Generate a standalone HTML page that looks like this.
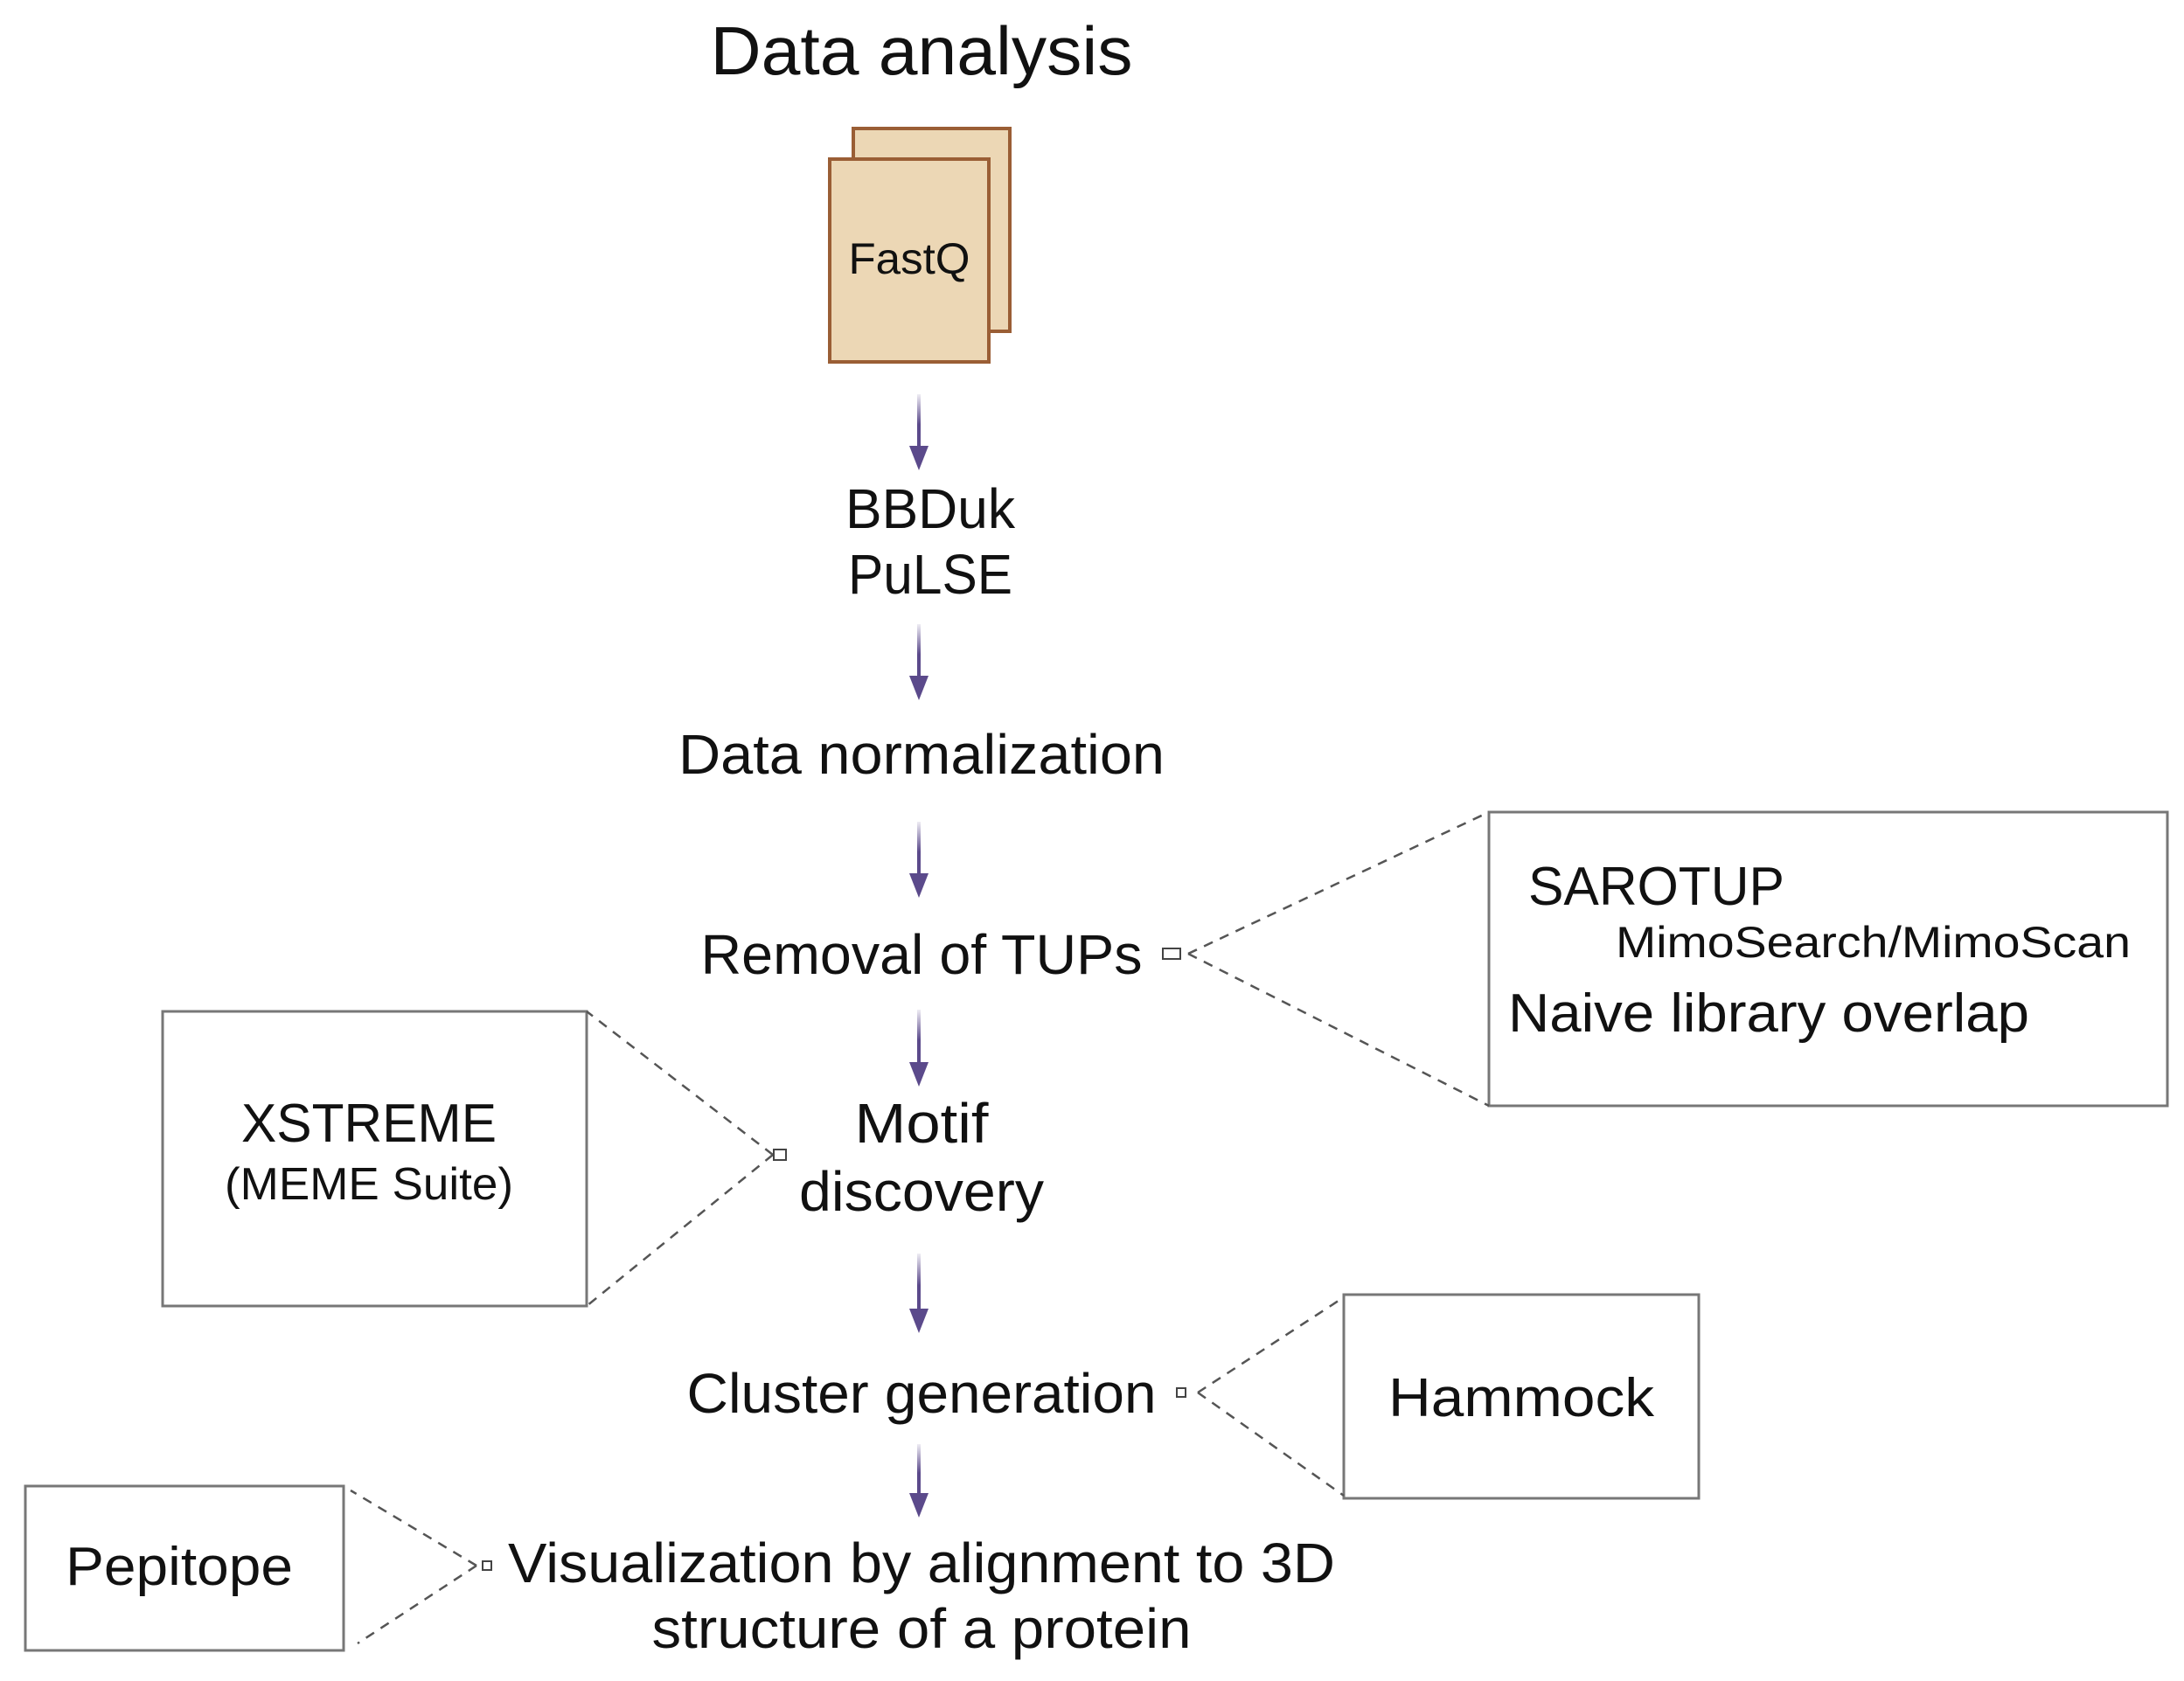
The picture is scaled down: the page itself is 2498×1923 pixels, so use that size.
<!DOCTYPE html>
<html><head><meta charset="utf-8"><style>html,body{margin:0;padding:0;background:#fff}svg{display:block}</style></head><body>
<svg width="2498" height="1923" viewBox="0 0 2498 1923" xmlns="http://www.w3.org/2000/svg" font-family="Liberation Sans, sans-serif" fill="#111">
<defs>
<linearGradient id="g" x1="0" y1="0" x2="0" y2="1"><stop offset="0" stop-color="#5b4a8b" stop-opacity="0.1"/><stop offset="0.5" stop-color="#5b4a8b"/></linearGradient>
</defs>
<text x="1054" y="85" font-size="78" text-anchor="middle" textLength="483" lengthAdjust="spacingAndGlyphs">Data analysis</text>
<rect x="976" y="147" width="179" height="232" fill="#ecd7b5" stroke="#9a5e35" stroke-width="4"/>
<rect x="949" y="182" width="182" height="232" fill="#ecd7b5" stroke="#9a5e35" stroke-width="4"/>
<text x="1040" y="313" font-size="50" text-anchor="middle" textLength="139" lengthAdjust="spacingAndGlyphs">FastQ</text>
<g fill="url(#g)">
<rect x="1049" y="451" width="4" height="69"/><rect x="1049" y="714" width="4" height="69"/><rect x="1049" y="940" width="4" height="69"/><rect x="1049" y="1155" width="4" height="70"/><rect x="1049" y="1434" width="4" height="73"/><rect x="1049" y="1652" width="4" height="66"/>
</g>
<g fill="#5b4a8b">
<polygon points="1040,510 1062,510 1051,538"/><polygon points="1040,773 1062,773 1051,801"/><polygon points="1040,999 1062,999 1051,1027"/><polygon points="1040,1215 1062,1215 1051,1243"/><polygon points="1040,1497 1062,1497 1051,1525"/><polygon points="1040,1708 1062,1708 1051,1736"/>
</g>
<g font-size="64" text-anchor="middle">
<text x="1064" y="604" textLength="194" lengthAdjust="spacingAndGlyphs">BBDuk</text>
<text x="1064" y="679" textLength="188" lengthAdjust="spacingAndGlyphs">PuLSE</text>
<text x="1054" y="885" textLength="556" lengthAdjust="spacingAndGlyphs">Data normalization</text>
<text x="1054" y="1114" textLength="505" lengthAdjust="spacingAndGlyphs">Removal of TUPs</text>
<text x="1054" y="1307" textLength="153" lengthAdjust="spacingAndGlyphs">Motif</text>
<text x="1054" y="1385" textLength="280" lengthAdjust="spacingAndGlyphs">discovery</text>
<text x="1054" y="1616" textLength="537" lengthAdjust="spacingAndGlyphs">Cluster generation</text>
<text x="1054" y="1810" textLength="946" lengthAdjust="spacingAndGlyphs">Visualization by alignment to 3D</text>
<text x="1054" y="1885" textLength="617" lengthAdjust="spacingAndGlyphs">structure of a protein</text>
</g>
<g fill="none" stroke="#777" stroke-width="3">
<rect x="1703" y="929" width="776" height="336"/>
<rect x="186" y="1157" width="485" height="337"/>
<rect x="1537" y="1481" width="406" height="233"/>
<rect x="29" y="1700" width="364" height="188"/>
</g>
<g fill="none" stroke="#555" stroke-width="2.5" stroke-dasharray="11 9">
<line x1="1359" y1="1091" x2="1703" y2="929"/><line x1="1359" y1="1091" x2="1703" y2="1265"/>
<line x1="884" y1="1321" x2="671" y2="1157"/><line x1="884" y1="1321" x2="671" y2="1494"/>
<line x1="1370" y1="1593" x2="1537" y2="1484"/><line x1="1370" y1="1593" x2="1537" y2="1711"/>
<line x1="545" y1="1791" x2="401" y2="1705"/><line x1="545" y1="1791" x2="409" y2="1880"/>
</g>
<g fill="#fff" stroke="#444" stroke-width="2">
<rect x="1330" y="1085" width="20" height="12"/><rect x="885" y="1315" width="14" height="12"/><rect x="1346" y="1588" width="10" height="10"/><rect x="552" y="1786" width="10" height="10"/>
</g>
<text x="1748" y="1035" font-size="62" textLength="293" lengthAdjust="spacingAndGlyphs">SAROTUP</text>
<text x="1848" y="1095" font-size="50" textLength="589" lengthAdjust="spacingAndGlyphs">MimoSearch/MimoScan</text>
<text x="1725" y="1180" font-size="62" textLength="596" lengthAdjust="spacingAndGlyphs">Naive library overlap</text>
<text x="422" y="1306" font-size="62" text-anchor="middle" textLength="292" lengthAdjust="spacingAndGlyphs">XSTREME</text>
<text x="422" y="1372" font-size="52" text-anchor="middle" textLength="330" lengthAdjust="spacingAndGlyphs">(MEME Suite)</text>
<text x="1740" y="1620" font-size="62" text-anchor="middle" textLength="304" lengthAdjust="spacingAndGlyphs">Hammock</text>
<text x="205" y="1813" font-size="62" text-anchor="middle" textLength="260" lengthAdjust="spacingAndGlyphs">Pepitope</text>
</svg>
</body></html>
